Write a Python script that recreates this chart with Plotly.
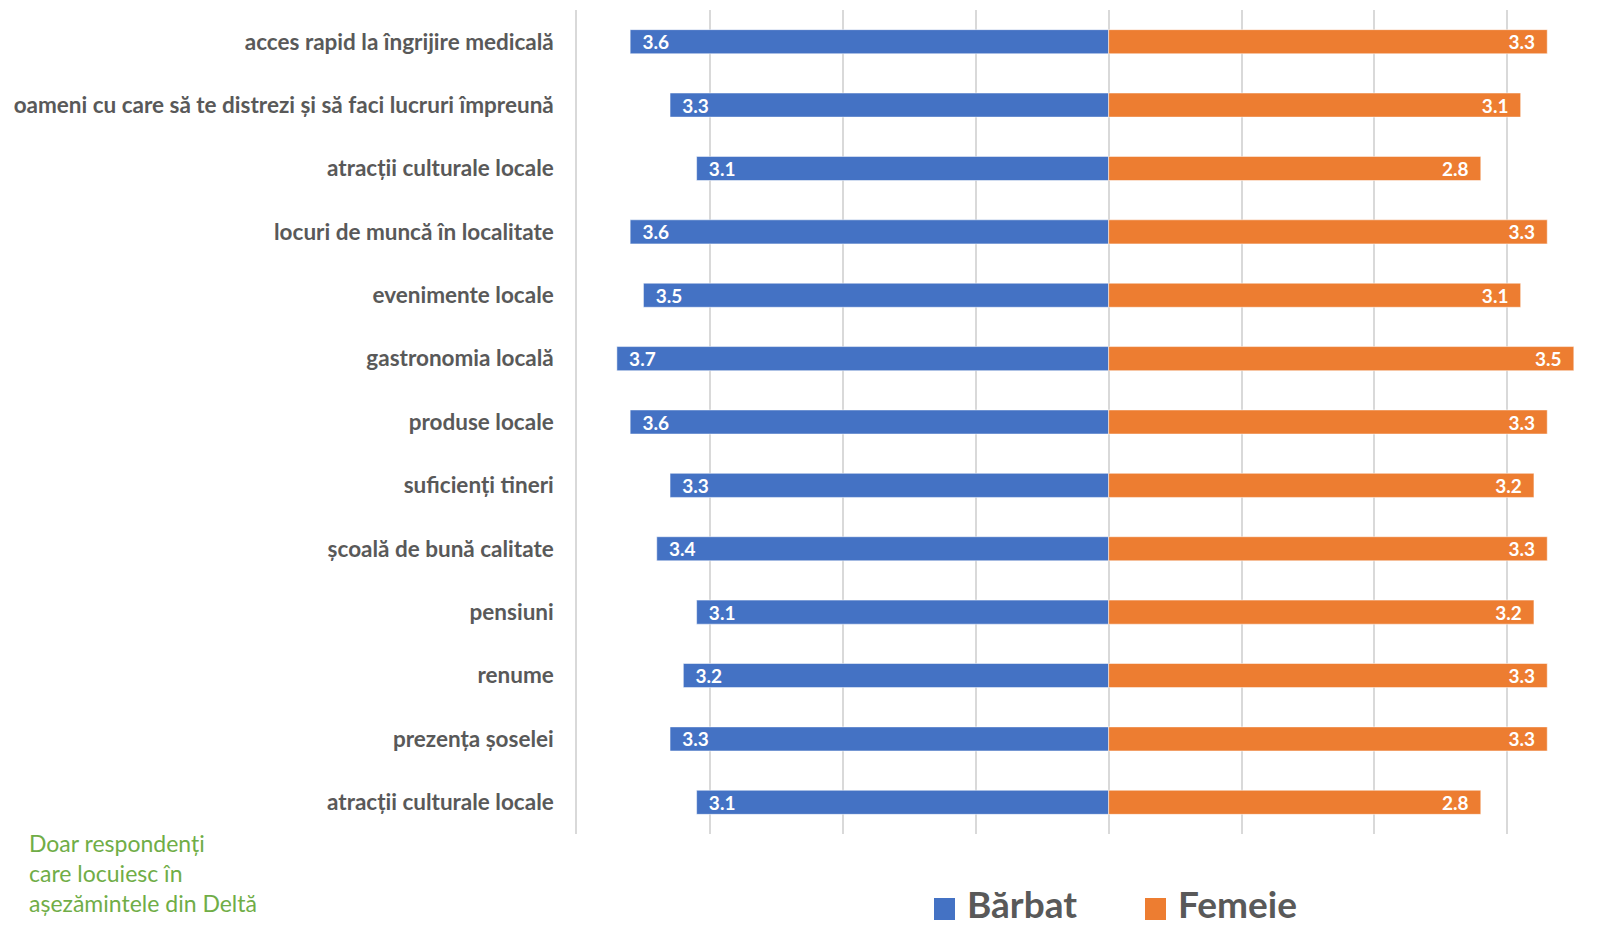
import plotly.graph_objects as go

categories = [
    "acces rapid la îngrijire medicală",
    "oameni cu care să te distrezi și să faci lucruri împreună",
    "atracții culturale locale",
    "locuri de muncă în localitate",
    "evenimente locale",
    "gastronomia locală",
    "produse locale",
    "suficienți tineri",
    "școală de bună calitate",
    "pensiuni",
    "renume",
    "prezența șoselei",
    "atracții culturale locale",
]
barbat = [3.6, 3.3, 3.1, 3.6, 3.5, 3.7, 3.6, 3.3, 3.4, 3.1, 3.2, 3.3, 3.1]
femeie = [3.3, 3.1, 2.8, 3.3, 3.1, 3.5, 3.3, 3.2, 3.3, 3.2, 3.3, 3.3, 2.8]
note_lines = ["Doar respondenți", "care locuiesc în", "așezămintele din Deltă"]

BLUE = "#4472C4"
ORANGE = "#ED7D31"
GREY = "#595959"

pos = list(range(len(categories)))
pad = "\u00a0\u00a0"
label_font = dict(family="Lato", size=19, color="white", weight="bold")

fig = go.Figure()
fig.add_trace(go.Bar(
    y=pos, x=[-v for v in barbat], orientation="h", name="Bărbat",
    marker=dict(color=BLUE, line=dict(color="rgba(255,255,255,0.5)", width=1)),
    text=[pad + f"{v:.1f}" for v in barbat], textposition="inside",
    insidetextanchor="end", textangle=0, constraintext="none",
    textfont=label_font, hoverinfo="skip",
))
fig.add_trace(go.Bar(
    y=pos, x=femeie, orientation="h", name="Femeie",
    marker=dict(color=ORANGE, line=dict(color="rgba(255,255,255,0.5)", width=1)),
    text=[f"{v:.1f}" + pad for v in femeie], textposition="inside",
    insidetextanchor="end", textangle=0, constraintext="none",
    textfont=label_font, hoverinfo="skip",
))

# legend drawn by hand so the swatches can be as big as in the original
for name, col, x0 in [("Bărbat", BLUE, 0.3413), ("Femeie", ORANGE, 0.5430)]:
    fig.add_shape(type="rect", xref="paper", yref="paper",
                  x0=x0, x1=x0 + 0.0201, y0=-0.1044, y1=-0.0777,
                  fillcolor=col, line=dict(width=0))
    fig.add_annotation(text=name, xref="paper", yref="paper",
                       x=x0 + 0.030, y=-0.084, xanchor="left", yanchor="middle",
                       showarrow=False,
                       font=dict(family="Lato", size=37, color=GREY, weight="bold"))

fig.add_annotation(
    text="<br>".join(note_lines), xref="paper", yref="paper",
    x=-0.526, y=0.008, xanchor="left", yanchor="top", align="left",
    showarrow=False, font=dict(family="Lato", size=23, color="#70AD47"),
)

fig.update_layout(
    width=1623, height=926,
    paper_bgcolor="white", plot_bgcolor="white",
    margin=dict(l=577, r=0, t=10, b=92, autoexpand=False),
    barmode="relative", bargap=0.62,
    showlegend=False,
    font=dict(family="Lato"),
)
fig.update_xaxes(range=[-4, 3.87], dtick=1, tick0=0, showgrid=True, gridcolor="#D9D9D9",
                 gridwidth=1.5, showticklabels=False, zeroline=True, zerolinecolor="#D9D9D9",
                 zerolinewidth=1.5, fixedrange=True)
fig.update_yaxes(tickvals=pos, ticktext=categories, autorange="reversed",
                 showgrid=False, zeroline=False, ticks="outside", ticklen=17,
                 tickcolor="rgba(0,0,0,0)", automargin=False,
                 showline=True, linecolor="#D9D9D9", linewidth=1.5,
                 tickfont=dict(family="Lato", size=22.5, color=GREY, weight="bold"))

fig.write_html("out.html", config={"displayModeBar": False},
               post_script="document.body.style.margin='0';")
